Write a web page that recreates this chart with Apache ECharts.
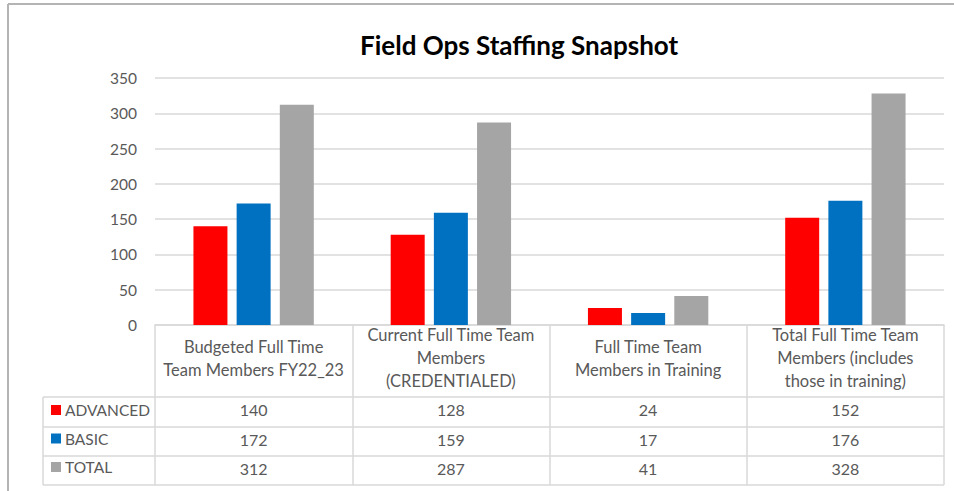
<!DOCTYPE html>
<html>
<head>
<meta charset="utf-8">
<script src="https://cdn.jsdelivr.net/npm/echarts@6/dist/echarts.min.js"></script>
<style>
  html, body { margin: 0; padding: 0; background: #fff; }
  #main { width: 954px; height: 491px; }
</style>
</head>
<body>
<div id="main"></div>
<script>
var categories = [
    'Budgeted Full Time\nTeam Members FY22_23',
    'Current Full Time Team\nMembers\n(CREDENTIALED)',
    'Full Time Team\nMembers in Training',
    'Total Full Time Team\nMembers (includes\nthose in training)'
];
var seriesNames = ['ADVANCED', 'BASIC', 'TOTAL'];
var advanced = [140, 128, 24, 152];
var basic = [172, 159, 17, 176];
var total = [312, 287, 41, 328];
var colors = ['#FF0000', '#0070C0', '#A5A5A5'];

var font = 'Lato, "Noto Sans", sans-serif';
var textColor = '#595959';
var lineColor = '#d9d9d9';

// table layout (below the plot)
var gridLeft = 155, gridRight = 10, gridTop = 78, gridBottom = 166;
var axisY = 491 - gridBottom;
var rowTops = [72, 102, 131, 160]; // offsets from the x axis line
var tableLeft = 43, tableRight = 954 - gridRight;

var rows = [advanced, basic, total];

// one hidden category axis per data row, its labels are the table values
var valueAxes = rows.map(function (arr, r) {
    var h = rowTops[r + 1] - rowTops[r];
    return {
        type: 'category',
        data: categories,
        position: 'bottom',
        offset: rowTops[r],
        axisLine: {show: false},
        axisTick: {show: false},
        axisLabel: {
            margin: h / 2 - 2.5,
            verticalAlign: 'middle',
            fontFamily: font,
            fontSize: 16,
            color: textColor,
            formatter: function (v, i) { return String(arr[i]); }
        }
    };
});

var graphics = [];
// outer frame (top and left edge visible)
graphics.push({type: 'line', shape: {x1: 8, y1: 4, x2: 954, y2: 4}, style: {stroke: '#b4b4b4', lineWidth: 2}});
graphics.push({type: 'line', shape: {x1: 8, y1: 4, x2: 8, y2: 491}, style: {stroke: '#b4b4b4', lineWidth: 2}});
// table row lines
rowTops.forEach(function (t) {
    graphics.push({type: 'line', shape: {x1: tableLeft, y1: axisY + t, x2: tableRight, y2: axisY + t}, style: {stroke: lineColor, lineWidth: 1.5}});
});
graphics.push({type: 'line', shape: {x1: tableLeft, y1: axisY + rowTops[0], x2: tableLeft, y2: axisY + rowTops[3]}, style: {stroke: lineColor, lineWidth: 1.5}});

var option = {
    animation: false,
    backgroundColor: '#fff',
    title: {
        text: 'Field Ops Staffing Snapshot',
        left: 355,
        top: 27,
        textStyle: {fontFamily: font, fontSize: 26, fontWeight: 'bold', color: '#000'}
    },
    legend: {
        data: seriesNames,
        orient: 'vertical',
        left: 46,
        top: axisY + rowTops[0],
        itemWidth: 10,
        itemHeight: 10,
        itemGap: 12.5,
        icon: 'rect',
        selectedMode: false,
        textStyle: {fontFamily: font, fontSize: 15.5, color: textColor, lineHeight: 16, padding: [0, 0, 0, -1]}
    },
    grid: {left: gridLeft, right: gridRight, top: gridTop, bottom: gridBottom},
    xAxis: [{
        type: 'category',
        data: categories,
        axisLine: {show: true, lineStyle: {color: lineColor, width: 1.5}},
        axisTick: {show: true, length: rowTops[3], lineStyle: {color: lineColor, width: 1.5}},
        axisLabel: {
            margin: rowTops[0] / 2 - 3,
            verticalAlign: 'middle',
            interval: 0,
            fontFamily: font,
            fontSize: 16.5,
            lineHeight: 23,
            color: textColor
        }
    }].concat(valueAxes),
    yAxis: {
        type: 'value',
        min: 0,
        max: 350,
        interval: 50,
        axisLine: {show: false},
        axisTick: {show: false},
        splitLine: {lineStyle: {color: lineColor, width: 1.5}},
        axisLabel: {margin: 18, fontFamily: font, fontSize: 15.5, color: textColor}
    },
    series: rows.map(function (arr, r) {
        return {
            name: seriesNames[r],
            type: 'bar',
            data: arr,
            barWidth: 34,
            barGap: '27%',
            itemStyle: {color: colors[r]}
        };
    }),
    graphic: graphics
};

var myChart = echarts.init(document.getElementById('main'), null, {renderer: 'svg'});
myChart.setOption(option);
window.onresize = myChart.resize;
</script>
</body>
</html>
